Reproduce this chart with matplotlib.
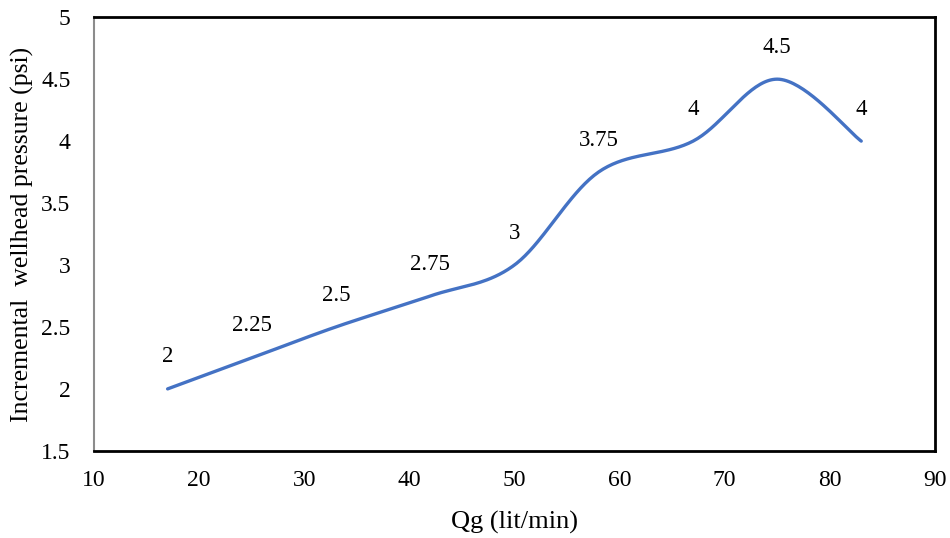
import numpy as np
import matplotlib
matplotlib.use('Agg')
import matplotlib.pyplot as plt

# gas rate vs incremental wellhead pressure
qg = [17, 25, 33, 42, 50, 58, 67, 75, 83]
dp = [2, 2.25, 2.5, 2.75, 3, 3.75, 4, 4.5, 4]
labels = ['2', '2.25', '2.5', '2.75', '3', '3.75', '4', '4.5', '4']

plt.rcParams['font.family'] = ['Liberation Serif', 'DejaVu Serif']


def smooth(x, y, n=40):
    # bezier smoothing between neighbouring points (spreadsheet style)
    p = np.column_stack([x, y]).astype(float)
    pts = []
    for i in range(len(p) - 1):
        p0 = p[i - 1] if i > 0 else p[i]
        p3 = p[i + 2] if i + 2 < len(p) else p[i + 1]
        c1 = p[i] + (p[i + 1] - p0) / 6
        c2 = p[i + 1] - (p3 - p[i]) / 6
        t = np.linspace(0, 1, n)[:, None]
        seg = ((1 - t) ** 3 * p[i] + 3 * (1 - t) ** 2 * t * c1
               + 3 * (1 - t) * t ** 2 * c2 + t ** 3 * p[i + 1])
        pts.append(seg if i == 0 else seg[1:])
    pts = np.vstack(pts)
    return pts[:, 0], pts[:, 1]


fig = plt.figure(figsize=(9.5, 5.38), dpi=100)
ax = fig.add_axes([0.099, 0.162, 0.885, 0.806])

sx, sy = smooth(qg, dp)
ax.plot(sx, sy, color='#4472C4', lw=2.4, solid_capstyle='round')

for x, y, s in zip(qg, dp, labels):
    ax.annotate(s, (x, y), xytext=(0, 23), textcoords='offset points',
                ha='center', va='center', fontsize=16.5)

ax.set_xlim(10, 90)
ax.set_ylim(1.5, 5)
ax.set_xticks(range(10, 91, 10))
ax.set_yticks([1.5, 2, 2.5, 3, 3.5, 4, 4.5, 5])
ax.set_yticklabels(['1.5', '2', '2.5', '3', '3.5', '4', '4.5', '5'])
ax.tick_params(length=0, labelsize=17)
ax.tick_params(axis='y', pad=17)
ax.tick_params(axis='x', pad=14)

for side in ['top', 'right', 'bottom']:
    ax.spines[side].set_color('black')
    ax.spines[side].set_linewidth(2)
ax.spines['left'].set_color('#8c8c8c')
ax.spines['left'].set_linewidth(1.5)

ax.set_xlabel('Qg (lit/min)', fontsize=19, labelpad=14)
ax.set_ylabel('Incremental  wellhead pressure (psi)', fontsize=18.5, labelpad=5)

fig.savefig('out.png', dpi=100)
